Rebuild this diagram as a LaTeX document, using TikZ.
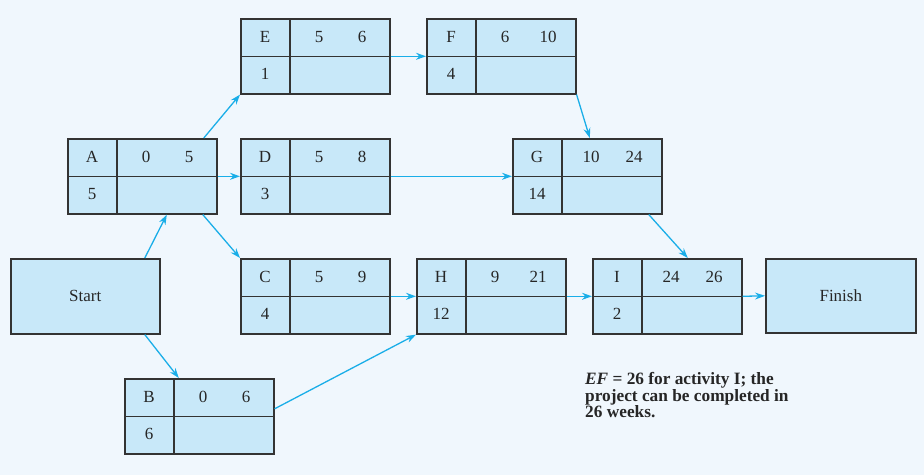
\documentclass[tikz,border=0pt]{standalone}
\usepackage{fontspec}
\setmainfont{Liberation Serif}
\usetikzlibrary{arrows.meta,calc}
\definecolor{bgc}{HTML}{F0F7FD}
\definecolor{boxc}{HTML}{C8E8F9}
\definecolor{arrc}{HTML}{1AAEE8}
\definecolor{edgec}{HTML}{333333}
\tikzset{
  box/.style={draw=edgec, fill=boxc, line width=1.6pt, anchor=north west, inner sep=0pt, minimum width=149pt, minimum height=75pt},
  divline/.style={draw=edgec, line width=1.5pt},
  lbl/.style={inner sep=0pt, font=\fontsize{17}{19}\selectfont, text=black!85},
  conn/.style={draw=arrc, line width=1.3pt, -{Stealth[length=10pt,width=7pt]}},
}
\newcommand\actbox[7]{%
  \node[box] (#1) at (#2,#3) {};
  \draw[divline] (#1.west) -- (#1.east);
  \draw[divline] (#2+50,#3) -- (#2+50,#3+75);
  \node[lbl] (#1-n) at (#2+25,#3+19) {#4};
  \node[lbl] (#1-es) at (#2+79,#3+19) {#5};
  \node[lbl] (#1-ef) at (#2+122,#3+19) {#6};
  \node[lbl] (#1-d) at (#2+25,#3+56) {#7};
}
\begin{document}
\begin{tikzpicture}[x=1pt,y=-1pt]
\fill[bgc] (0,0) rectangle (924,475);
\useasboundingbox (0,0) rectangle (924,475);
\node[box] (Start) at (10,258) {};
\node[lbl] (Start-t) at (Start.center) {Start};
\node[box, minimum width=150pt, minimum height=74pt] (Finish) at (765,258) {};
\node[lbl] (Finish-t) at (Finish.center) {Finish};
\actbox{A}{67}{138}{A}{0}{5}{5}
\actbox{B}{124}{378}{B}{0}{6}{6}
\actbox{C}{240}{258}{C}{5}{9}{4}
\actbox{D}{240}{138}{D}{5}{8}{3}
\actbox{E}{240}{18}{E}{5}{6}{1}
\actbox{F}{426}{18}{F}{6}{10}{4}
\actbox{G}{512}{138}{G}{10}{24}{14}
\actbox{H}{416}{258}{H}{9}{21}{12}
\actbox{I}{592}{258}{I}{24}{26}{2}
\draw[conn] ([xshift=59.5pt]Start.north) -- ([xshift=24.5pt]A.south);
\draw[conn] ([xshift=59.5pt]Start.south) -- ([xshift=-20.5pt]B.north);
\draw[conn] ([xshift=61.5pt]A.north) -- (E.south west);
\draw[conn] (A.east) -- (D.west);
\draw[conn] ([xshift=60.5pt]A.south) -- (C.north west);
\draw[conn] (E.east) -- (F.west);
\draw[conn] (F.south east) -- ([xshift=2.5pt]G.north);
\draw[conn] (D.east) -- (G.west);
\draw[conn] ([xshift=61.5pt]G.south) -- ([xshift=20.5pt]I.north);
\draw[conn] (C.east) -- (H.west);
\draw[conn] ([yshift=7.5pt]B.east) -- (H.south west);
\draw[conn] (H.east) -- (I.west);
\draw[conn] (I.east) -- (Finish.west);
\node[anchor=north west, inner sep=0pt, align=left, text=black!85, font=\fontsize{17.3}{16.8}\selectfont\bfseries] (note) at (585,372)
  {\textit{EF} = 26 for activity I; the\\project can be completed in\\26 weeks.};
\end{tikzpicture}
\end{document}
